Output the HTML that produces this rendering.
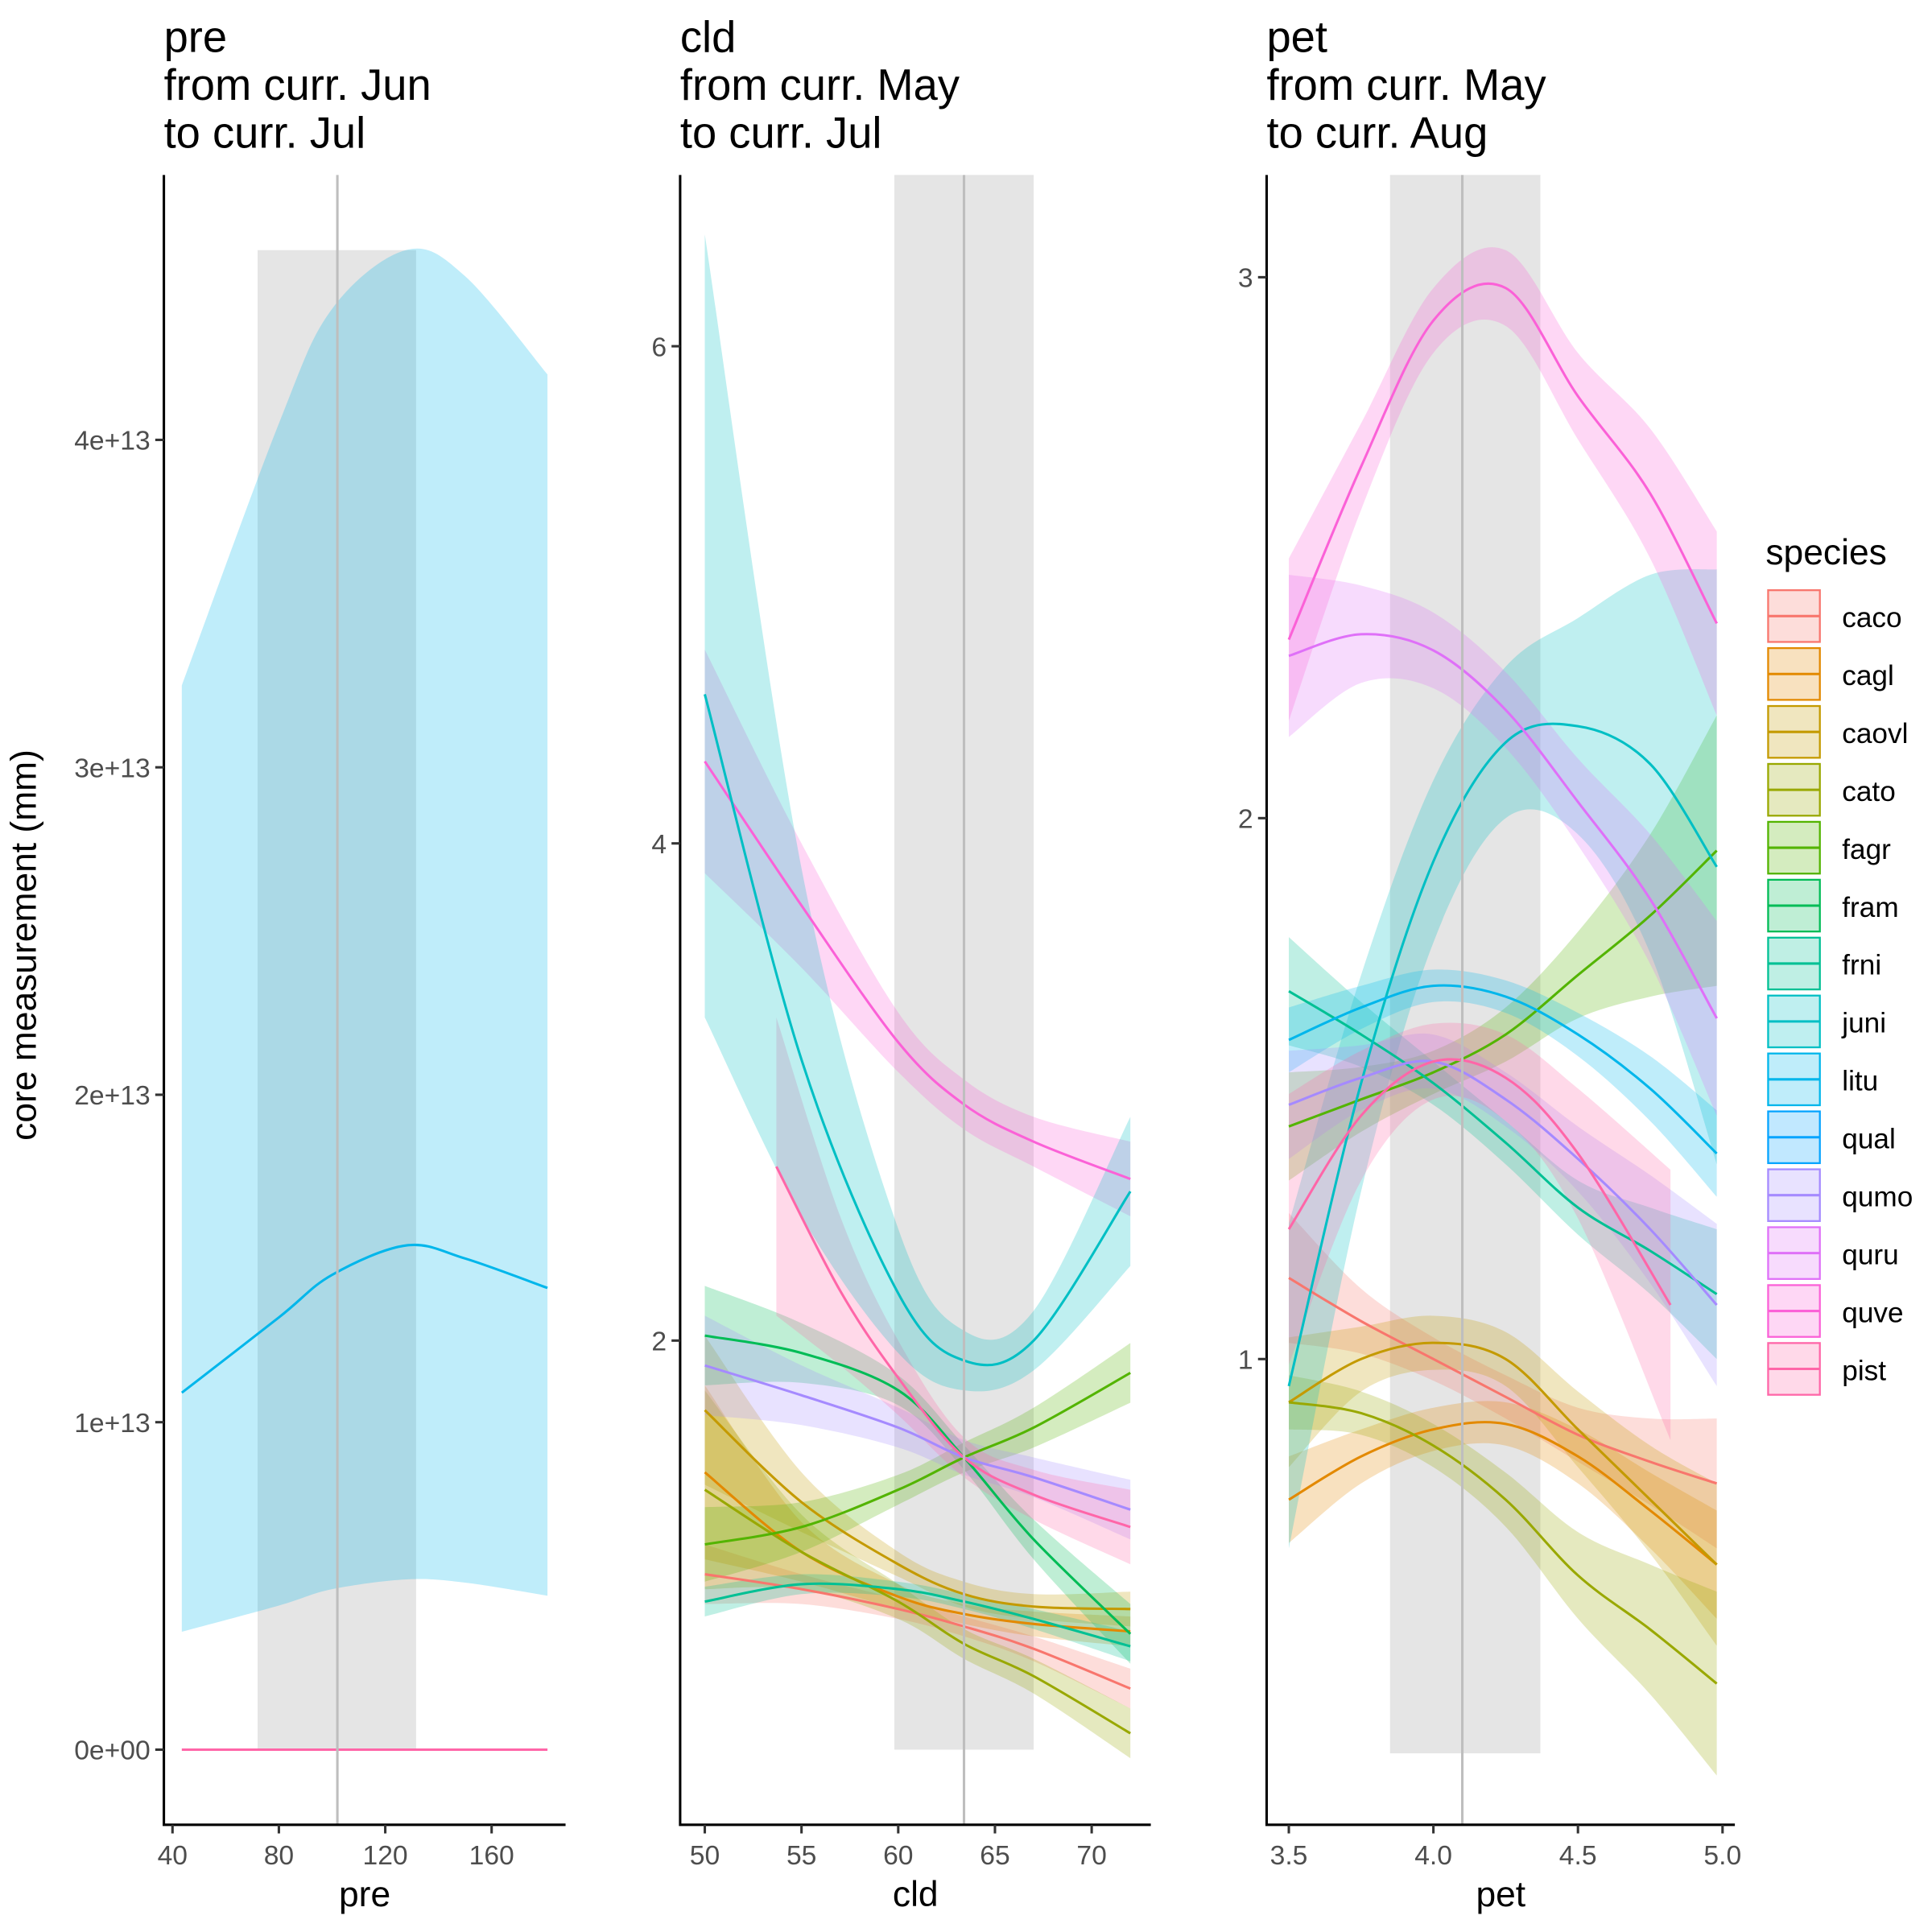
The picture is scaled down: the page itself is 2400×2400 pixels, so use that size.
<!DOCTYPE html>
<html><head><meta charset="utf-8"><style>
html,body{margin:0;padding:0;background:#fff}
svg{display:block}
text{font-family:"Liberation Sans",sans-serif}
</style></head><body>
<svg id="chart" width="2400" height="2400" viewBox="0 0 1568 1568" xmlns="http://www.w3.org/2000/svg">
<defs>
<clipPath id="c1"><rect x="133" y="142" width="326" height="1339"/></clipPath>
<clipPath id="c2"><rect x="552" y="142" width="382" height="1339"/></clipPath>
<clipPath id="c3"><rect x="1028" y="142" width="380" height="1339"/></clipPath>
</defs>
<g id="root"></g>
</svg>
<script>
const species = ["caco","cagl","caovl","cato","fagr","fram","frni","juni","litu","qual","qumo","quru","quve","pist"];
const colors = ["#F8766D","#E38900","#C49A00","#99A800","#53B400","#00BC56","#00C094","#00BFC4","#00B6EB","#06A4FF","#A58AFF","#DF70F8","#FB61D7","#FF66A8"];

// Panel 1 (pre) – values in 1e13
const p1Grid = [43.5,80,100,128,150,181];
const p1Line = [1.09,1.32,1.45,1.54,1.5,1.41];
const p1Lo = [0.36,0.44,0.49,0.52,0.51,0.47];
const p1Hi = [3.25,4.05,4.4,4.58,4.5,4.2];
const p1Zero = [0,0,0,0,0,0];
const p1XTicks = [40,80,120,160];
const p1YTicks = [0,1,2,3,4];
const p1YLabels = ["0e+00","1e+13","2e+13","3e+13","4e+13"];
const p1Window = [72,131.6,102];

// Panel 2 (cld)
const p2Grid = [50,55,60,63.4,67,72];
const p2Series = ["caco","cagl","caovl","cato","fagr","fram","frni","qumo","quve","pist","juni"];
const p2_caco = [1.06,1.0,0.92,0.85,0.76,0.6];   const p2w_caco = [.12,.06,.04,.04,.05,.08];
const p2_cagl = [1.47,1.15,0.97,0.9,0.86,0.83];  const p2w_cagl = [.35,.12,.05,.04,.05,.06];
const p2_caovl = [1.72,1.35,1.1,0.98,0.93,0.92]; const p2w_caovl = [.3,.12,.05,.05,.05,.07];
const p2_cato = [1.4,1.15,0.95,0.78,0.65,0.42];  const p2w_cato = [.4,.15,.07,.06,.07,.1];
const p2_fagr = [1.18,1.25,1.4,1.53,1.65,1.87];  const p2w_fagr = [.15,.1,.06,.06,.08,.12];
const p2_fram = [2.02,1.95,1.8,1.53,1.2,0.82];   const p2w_fram = [.2,.12,.06,.05,.08,.12];
const p2_frni = [0.95,1.02,1.0,0.95,0.88,0.77];  const p2w_frni = [.06,.04,.03,.03,.04,.06];
const p2_qumo = [1.9,1.78,1.65,1.53,1.45,1.32];  const p2w_qumo = [.2,.12,.08,.07,.08,.12];
const p2_quve = [4.33,3.75,3.2,2.95,2.8,2.65];   const p2w_quve = [.45,.25,.12,.1,.1,.15];
const p2x_pist = [53.7,57,60,63.4,67,72];
const p2_pist = [2.7,2.2,1.85,1.53,1.38,1.25];   const p2w_pist = [.6,.3,.15,.08,.1,.15];
const p2_juni = [4.6,3.13,2.19,1.92,2.0,2.6];    const p2w_juni = [1.5,0.6,0.2,0.12,0.12,0.3];
const p2hi_juni = [6.45,3.9,2.45,2.04,2.12,2.9];
const p2lo_juni = [3.3,2.5,1.95,1.8,1.88,2.3];
const p2XTicks = [50,55,60,65,70];
const p2YTicks = [2,4,6];
const p2Window = [59.8,67.0,63.4];

// Panel 3 (pet)
const p3Grid = [3.5,3.75,4.0,4.25,4.5,4.75,4.98];
const p3Series = ["caco","cagl","caovl","cato","fagr","frni","juni","litu","qumo","quru","quve","pist"];
const p3_caco = [1.15,1.07,1.0,0.93,0.86,0.81,0.77];   const p3w_caco = [.12,.06,.04,.04,.05,.08,.12];
const p3_cagl = [0.74,0.82,0.87,0.88,0.82,0.72,0.62];  const p3w_cagl = [.08,.05,.04,.04,.05,.07,.1];
const p3_caovl = [0.92,1.0,1.03,1.0,0.87,0.74,0.62];   const p3w_caovl = [.12,.06,.05,.05,.07,.1,.15];
const p3_cato = [0.92,0.9,0.84,0.74,0.6,0.5,0.4];      const p3w_cato = [.05,.04,.04,.05,.08,.12,.17];
const p3_fagr = [1.43,1.48,1.53,1.6,1.71,1.82,1.94];   const p3w_fagr = [.1,.06,.04,.05,.08,.15,.25];
const p3_frni = [1.68,1.6,1.51,1.4,1.28,1.2,1.12];     const p3w_frni = [.1,.06,.04,.04,.05,.08,.12];
const p3_juni = [0.95,1.51,1.92,2.14,2.17,2.1,1.91];   const p3w_juni = [.3,.2,.15,.14,.2,.35,.55];
const p3_litu = [1.59,1.65,1.69,1.67,1.6,1.5,1.38];    const p3w_litu = [.06,.04,.03,.03,.04,.06,.08];
const p3_qumo = [1.47,1.52,1.55,1.48,1.37,1.24,1.10];  const p3w_qumo = [.1,.06,.05,.05,.06,.1,.15];
const p3_quru = [2.30,2.34,2.31,2.2,2.03,1.85,1.63];   const p3w_quru = [.15,.09,.07,.07,.08,.12,.18];
const p3_quve = [2.33,2.65,2.92,2.98,2.78,2.6,2.36];   const p3w_quve = [.15,.08,.06,.07,.08,.12,.17];
const p3x_pist = [3.5,3.75,4.0,4.25,4.5,4.82];
const p3_pist = [1.24,1.45,1.55,1.52,1.38,1.1];        const p3w_pist = [.25,.12,.07,.08,.12,.25];
const p3XTicks = [3.5,4.0,4.5,5.0];
const p3XLabels = ["3.5","4.0","4.5","5.0"];
const p3YTicks = [1,2,3];
const p3Window = [3.85,4.37,4.1];

const NS = "http://www.w3.org/2000/svg";
const root = document.getElementById("root");
function mk(tag, attrs, parent){const e=document.createElementNS(NS,tag);for(const k in attrs)e.setAttribute(k,attrs[k]);(parent||root).appendChild(e);return e;}
function colorOf(s){return colors[species.indexOf(s)];}
function smooth(pts, move){
  let d = (move?"M":"L")+pts[0][0].toFixed(2)+","+pts[0][1].toFixed(2);
  for(let i=0;i<pts.length-1;i++){
    const p0=pts[Math.max(0,i-1)],p1=pts[i],p2=pts[i+1],p3=pts[Math.min(pts.length-1,i+2)];
    const c1=[p1[0]+(p2[0]-p0[0])/6,p1[1]+(p2[1]-p0[1])/6];
    const c2=[p2[0]-(p3[0]-p1[0])/6,p2[1]-(p3[1]-p1[1])/6];
    d+=" C"+c1.map(v=>v.toFixed(2))+" "+c2.map(v=>v.toFixed(2))+" "+p2[0].toFixed(2)+","+p2[1].toFixed(2);
  }
  return d;
}
function pick(grid, arr){const o=[];grid.forEach((g,i)=>{if(arr[i]!==null&&arr[i]!==undefined)o.push([g,arr[i]]);});return o;}

function panel(cfg){
  const g = mk("g",{});
  
  
  const X=cfg.sx, Y=cfg.sy;
  const t = mk("text",{x:cfg.left,y:42,"font-size":35.5,fill:"#000"},g);
  
  
  cfg.title.forEach((line,i)=>{const ts=mk("tspan",{x:cfg.left,y:42+i*39},t);ts.textContent=line;});
  const w = mk("rect",{x:X(cfg.win[0]),y:cfg.winTop,width:X(cfg.win[1])-X(cfg.win[0]),height:cfg.winBot-cfg.winTop,fill:"#E5E5E5"},g);
  
  
  const plot = mk("g",{"clip-path":"url(#"+cfg.clip+")"},g);
  cfg.series.forEach(s=>{
    let up=s.y.map((v,i)=>v===null?null:v+s.w[i]);
    let lo=s.y.map((v,i)=>v===null?null:v-s.w[i]);
    if(s.hi){ up=s.hi; lo=s.lo; }
    const pu=pick(s.x,up).map(p=>[X(p[0]),Y(p[1])]);
    const pl=pick(s.x,lo).map(p=>[X(p[0]),Y(p[1])]).reverse();
    const r = mk("path",{d:smooth(pu,true)+" "+smooth(pl,false)+" Z",fill:s.color,"fill-opacity":s.op||0.25,stroke:"none"},plot);
    
    
  });
  cfg.series.concat(cfg.extra||[]).forEach(s=>{
    const p=pick(s.x,s.y).map(p=>[X(p[0]),Y(p[1])]);
    const l = mk("path",{d:smooth(p,true),fill:"none",stroke:s.color,"stroke-width":2},plot);
    
    
  });
  const vl = mk("line",{x1:X(cfg.win[2]),x2:X(cfg.win[2]),y1:142,y2:1481,stroke:"#BEBEBE","stroke-width":2},g);
  
  
  const ax = mk("path",{d:"M"+cfg.left+",142 V1481 H"+cfg.right,fill:"none",stroke:"#000","stroke-width":2},g);
  
  
  cfg.xt.forEach((v,i)=>{
    mk("line",{x1:X(v),x2:X(v),y1:1481,y2:1488,stroke:"#333","stroke-width":2},g);
    const tl = mk("text",{x:X(v),y:1513,"font-size":22,fill:"#4D4D4D","text-anchor":"middle"},g);
    
    
    tl.textContent = cfg.xl ? cfg.xl[i] : String(v);
  });
  cfg.yt.forEach((v,i)=>{
    mk("line",{x1:cfg.left-7,x2:cfg.left,y1:Y(v),y2:Y(v),stroke:"#333","stroke-width":2},g);
    const tl = mk("text",{x:cfg.left-11,y:Y(v)+8,"font-size":22,fill:"#4D4D4D","text-anchor":"end"},g);
    
    
    tl.textContent = cfg.yl ? cfg.yl[i] : String(v);
  });
  const xt = mk("text",{x:(cfg.left+cfg.right)/2,y:1547,"font-size":29,fill:"#000","text-anchor":"middle"},g);
  
  
  xt.textContent = cfg.name;
}
function lin(d0,d1,r0,r1){return v=>r0+(v-d0)*(r1-r0)/(d1-d0);}

panel({name:"pre",title:["pre","from curr. Jun","to curr. Jul"],left:133,right:459,clip:"c1",
  sx:lin(40,160,140,399),sy:lin(0,4,1420,357),win:p1Window,winTop:203,winBot:1420,
  xt:p1XTicks,yt:p1YTicks,yl:p1YLabels,
  series:[{name:"litu",x:p1Grid,y:p1Line,hi:p1Hi,lo:p1Lo,w:p1Line,color:"#00B6EB",op:0.25}],
  extra:[{name:"pist",x:p1Grid,y:p1Zero,color:"#FF66A8"}]});

function p2s(s){
  const o={name:s,x:p2Grid,y:eval("p2_"+s),w:eval("p2w_"+s),color:colorOf(s)};
  if(s==="pist") o.x=p2x_pist;
  if(s==="juni"){o.hi=p2hi_juni;o.lo=p2lo_juni;}
  return o;
}
panel({name:"cld",title:["cld","from curr. May","to curr. Jul"],left:552,right:934,clip:"c2",
  sx:lin(50,70,572,886),sy:lin(0,2,1491.5,1088),win:p2Window,winTop:142,winBot:1420,
  xt:p2XTicks,yt:p2YTicks,
  series:p2Series.map(p2s)});

function p3s(s){
  const o={name:s,x:p3Grid,y:eval("p3_"+s),w:eval("p3w_"+s),color:colorOf(s)};
  if(s==="pist") o.x=p3x_pist;
  return o;
}
panel({name:"pet",title:["pet","from curr. May","to curr. Aug"],left:1028,right:1408,clip:"c3",
  sx:lin(3.5,5.0,1046,1398),sy:lin(1,3,1103,225),win:p3Window,winTop:142,winBot:1423,
  xt:p3XTicks,xl:p3XLabels,yt:p3YTicks,
  series:p3Series.map(p3s)});

const yt = mk("text",{x:0,y:0,"font-size":29,fill:"#000","text-anchor":"middle",transform:"translate(29,767) rotate(-90)"});


yt.textContent = "core measurement (mm)";

const lt = mk("text",{x:1433,y:458,"font-size":29,fill:"#000"});


lt.textContent = "species";
species.forEach((s,i)=>{
  const y0 = 479+i*47;
  const g = mk("g",{});
  
  
  mk("rect",{x:1435,y:y0,width:42,height:42,fill:colors[i],"fill-opacity":0.25,stroke:colors[i],"stroke-width":1.5},g);
  mk("line",{x1:1435,x2:1477,y1:y0+21,y2:y0+21,stroke:colors[i],"stroke-width":2},g);
  const tx = mk("text",{x:1495,y:y0+30,"font-size":23,fill:"#000"},g);
  tx.textContent = s;
});
</script>
</body></html>
